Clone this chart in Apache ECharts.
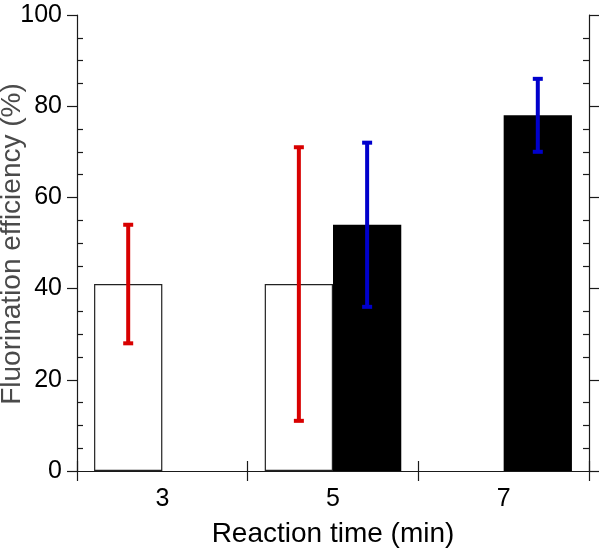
<!DOCTYPE html>
<html>
<head>
<meta charset="utf-8">
<script src="https://cdn.jsdelivr.net/npm/echarts@6/dist/echarts.min.js"></script>
<style>
  html, body { margin: 0; padding: 0; background: #fff; }
  #chart { width: 600px; height: 553px; }
</style>
</head>
<body>
<div id="chart"></div>
<script>
// reaction time categories (min)
const categories = ['3', '5', '7'];
// open bars (red error bars) and solid bars (blue error bars), %
const openBars = [41, 41, '-'];
const solidBars = ['-', 54, 78];
// error bar ranges [category index, low, high]
const redErrors = [[0, 28, 54], [1, 11, 71]];
const blueErrors = [[1, 36, 72], [2, 70, 86]];
const yTicks = [0, 20, 40, 60, 80, 100];

const FONT = 'Liberation Sans, Arial, Helvetica, sans-serif';
const AXIS_COLOR = '#1a1a1a';

const chart = echarts.init(document.getElementById('chart'));

// draws a vertical error bar with caps, shifted onto the left or right bar
function errorBar(side, color) {
  return (params, api) => {
    const idx = api.value(0);
    const low = api.coord([idx, api.value(1)]);
    const high = api.coord([idx, api.value(2)]);
    const band = api.size([1, 0])[0];
    const cx = low[0] + side * band * 0.2;
    const cap = 5;
    const style = { stroke: color, lineWidth: 4 };
    return {
      type: 'group',
      children: [
        { type: 'line', shape: { x1: cx, y1: low[1], x2: cx, y2: high[1] }, style },
        { type: 'line', shape: { x1: cx - cap, y1: high[1], x2: cx + cap, y2: high[1] }, style },
        { type: 'line', shape: { x1: cx - cap, y1: low[1], x2: cx + cap, y2: low[1] }, style }
      ]
    };
  };
}

const yCommon = {
  type: 'value',
  min: yTicks[0],
  max: yTicks[yTicks.length - 1],
  interval: 20,
  axisLine: { show: true, lineStyle: { color: AXIS_COLOR, width: 1.2 } },
  axisTick: { show: true, length: 10, lineStyle: { color: AXIS_COLOR, width: 1.2 } },
  minorTick: { show: true, splitNumber: 4, length: -6, lineStyle: { color: AXIS_COLOR, width: 1.2 } },
  splitLine: { show: false }
};

const option = {
  animation: false,
  backgroundColor: '#fff',
  grid: { left: 77, right: 11, top: 15, bottom: 80, containLabel: false },
  xAxis: [
    {
      type: 'category',
      data: categories,
      position: 'bottom',
      axisLine: { lineStyle: { color: AXIS_COLOR, width: 1.2 } },
      axisTick: { show: true, length: 10, lineStyle: { color: AXIS_COLOR, width: 1.2 } },
      axisLabel: { fontSize: 25, color: '#000', fontFamily: FONT, margin: 16 },
      name: 'Reaction time (min)',
      nameLocation: 'middle',
      nameGap: 49,
      nameTextStyle: { fontSize: 28, color: '#000', fontFamily: FONT }
    },
    {
      type: 'category',
      data: categories,
      position: 'top',
      axisLine: { lineStyle: { color: AXIS_COLOR, width: 1.2 } },
      axisTick: { show: true, length: 10, lineStyle: { color: AXIS_COLOR, width: 1.2 } },
      axisLabel: { show: false }
    }
  ],
  yAxis: [
    Object.assign({}, yCommon, {
      position: 'left',
      axisLabel: { fontSize: 25, color: '#000', fontFamily: FONT, margin: 15 }
    }),
    Object.assign({}, yCommon, {
      position: 'right',
      axisLabel: { show: false }
    })
  ],
  graphic: [
    {
      type: 'text',
      x: 12,
      y: 244,
      rotation: Math.PI / 2,
      style: {
        text: 'Fluorination efficiency (%)',
        fontSize: 28,
        fontFamily: FONT,
        fill: '#4a4a4a',
        align: 'center',
        verticalAlign: 'middle'
      }
    }
  ],
  series: [
    {
      name: 'open',
      type: 'bar',
      data: openBars,
      barWidth: '40%',
      barGap: '0%',
      itemStyle: { color: '#fff', borderColor: '#222', borderWidth: 1.2 }
    },
    {
      name: 'solid',
      type: 'bar',
      data: solidBars,
      barWidth: '40%',
      barGap: '0%',
      itemStyle: { color: '#000', borderColor: '#000', borderWidth: 0 }
    },
    {
      name: 'open error',
      type: 'custom',
      renderItem: errorBar(-1, '#d80000'),
      encode: { x: 0, y: [1, 2] },
      data: redErrors,
      z: 5
    },
    {
      name: 'solid error',
      type: 'custom',
      renderItem: errorBar(1, '#0000cc'),
      encode: { x: 0, y: [1, 2] },
      data: blueErrors,
      z: 5
    }
  ]
};

chart.setOption(option);
</script>
</body>
</html>
